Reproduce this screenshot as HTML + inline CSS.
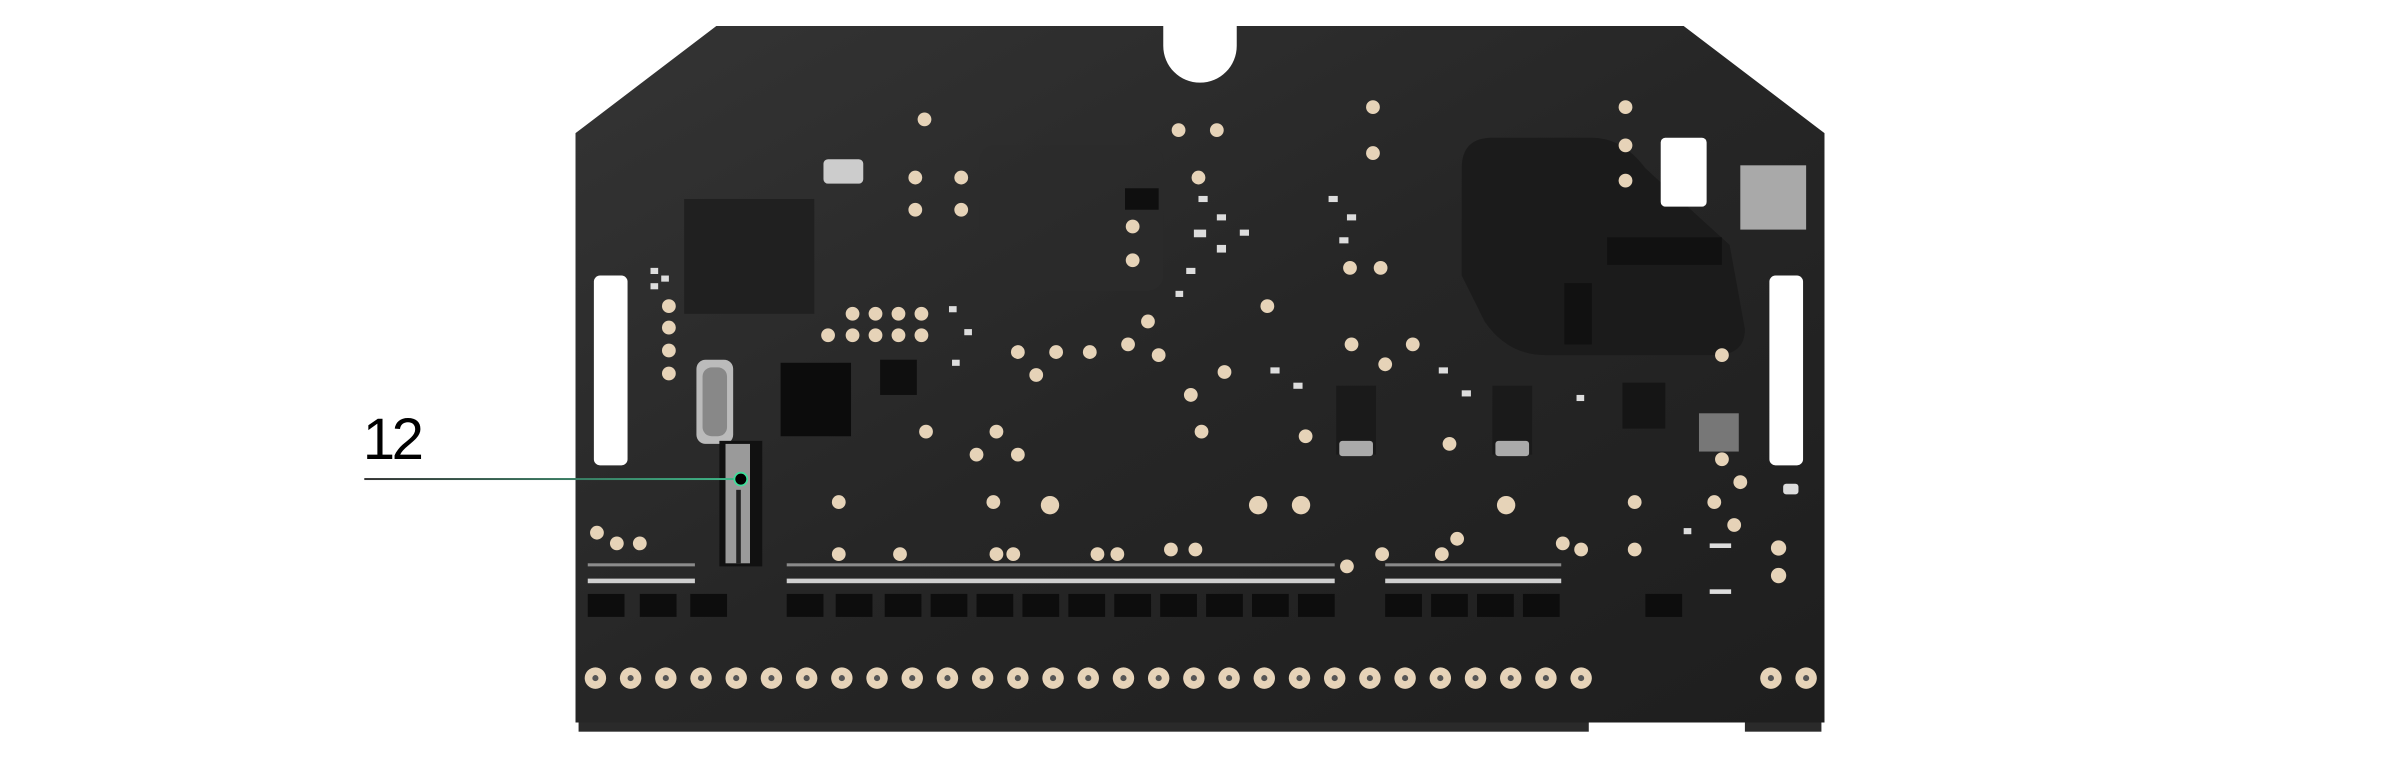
<!DOCTYPE html>
<html><head><meta charset="utf-8"><style>
html,body{margin:0;padding:0;background:#fff;width:2400px;height:760px;overflow:hidden}
svg{display:block}
</style></head><body>
<svg width="2400" height="760" viewBox="0 0 1568 496.5" preserveAspectRatio="none" xmlns="http://www.w3.org/2000/svg">
<defs>
<linearGradient id="bg" x1="0" y1="0" x2="1" y2="1">
<stop offset="0" stop-color="#343434"/><stop offset="0.5" stop-color="#262626"/><stop offset="1" stop-color="#1e1e1e"/>
</linearGradient>
<linearGradient id="ln" x1="0" y1="0" x2="1" y2="0">
<stop offset="0" stop-color="#333"/><stop offset="1" stop-color="#3fb98a"/>
</linearGradient>
</defs>
<!-- bottom strip -->
<rect x="378" y="470" width="660" height="8" fill="#2a2a2a"/>
<rect x="1140" y="470" width="50" height="8" fill="#2a2a2a"/>
<!-- board -->
<path d="M376 87 L468 17 L760 17 L760 30 A24 24 0 0 0 808 30 L808 17 L1100 17 L1192 87 L1192 472 L376 472 Z" fill="url(#bg)"/>
<!-- inner regions -->
<path d="M955 110 Q955 90 975 90 L1040 90 Q1060 90 1075 110 L1130 160 L1140 215 Q1140 232 1120 232 L1010 232 Q985 232 970 210 L955 180 Z" fill="#1b1b1b"/>
<rect x="640" y="95" width="120" height="95" rx="10" fill="#2c2c2c" opacity="0.6"/>
<rect x="447" y="130" width="85" height="75" fill="#202020"/>
<!-- slots -->
<rect x="388" y="180" width="22" height="124" rx="4" fill="#fff"/>
<rect x="1156" y="180" width="22" height="124" rx="4" fill="#fff"/>
<rect x="1085" y="90" width="30" height="45" rx="3" fill="#fff"/>
<rect x="1137" y="108" width="43" height="42" fill="#a9a9a9"/>
<!-- chips -->
<rect x="510" y="237" width="46" height="48" fill="#0c0c0c"/>
<rect x="575" y="235" width="24" height="23" fill="#0f0f0f"/>
<rect x="735" y="123" width="22" height="14" fill="#0f0f0f"/>
<rect x="1050" y="155" width="75" height="18" fill="#111"/>
<rect x="1022" y="185" width="18" height="40" fill="#111"/>
<rect x="455" y="235" width="24" height="55" rx="6" fill="#bbb"/>
<rect x="459" y="240" width="16" height="45" rx="6" fill="#888"/>
<rect x="538" y="104" width="26" height="16" rx="3" fill="#ccc"/>
<rect x="873" y="252" width="26" height="45" fill="#1a1a1a"/>
<rect x="875" y="288" width="22" height="10" rx="2" fill="#aaa"/>
<rect x="975" y="252" width="26" height="45" fill="#1a1a1a"/>
<rect x="977" y="288" width="22" height="10" rx="2" fill="#aaa"/>
<rect x="1060" y="250" width="28" height="30" fill="#151515"/>
<rect x="1110" y="270" width="26" height="25" fill="#777"/>
<!-- component 12 -->
<rect x="470" y="288" width="28" height="82" fill="#111"/>
<rect x="474" y="290" width="16" height="78" fill="#9a9a9a"/>
<rect x="481" y="320" width="3" height="48" fill="#222"/>
<!-- small parts -->
<g fill="#ddd">
<rect x="783" y="128" width="6" height="4"/><rect x="795" y="140" width="6" height="4"/><rect x="780" y="150" width="8" height="5"/><rect x="795" y="160" width="6" height="5"/><rect x="810" y="150" width="6" height="4"/><rect x="775" y="175" width="6" height="4"/><rect x="768" y="190" width="5" height="4"/><rect x="868" y="128" width="6" height="4"/><rect x="880" y="140" width="6" height="4"/><rect x="875" y="155" width="6" height="4"/>
<rect x="620" y="200" width="5" height="4"/><rect x="630" y="215" width="5" height="4"/><rect x="622" y="235" width="5" height="4"/><rect x="830" y="240" width="6" height="4"/><rect x="845" y="250" width="6" height="4"/><rect x="940" y="240" width="6" height="4"/><rect x="955" y="255" width="6" height="4"/><rect x="1030" y="258" width="5" height="4"/><rect x="1100" y="345" width="5" height="4"/><rect x="1117" y="355" width="14" height="3"/><rect x="1117" y="385" width="14" height="3"/>
<rect x="1165" y="316" width="10" height="7" rx="2"/>
<rect x="425" y="175" width="5" height="4"/><rect x="425" y="185" width="5" height="4"/><rect x="432" y="180" width="5" height="4"/>
</g>
<!-- rows of small smd -->
<g fill="#cfcfcf">
<rect x="384" y="378" width="70" height="3"/>
<rect x="514" y="378" width="358" height="3"/>
<rect x="905" y="378" width="115" height="3"/>
<rect x="384" y="368" width="70" height="2" opacity="0.6"/>
<rect x="514" y="368" width="358" height="2" opacity="0.6"/>
<rect x="905" y="368" width="115" height="2" opacity="0.6"/>
</g>
<g fill="#0d0d0d">
<rect x="384" y="388" width="24" height="15"/><rect x="418" y="388" width="24" height="15"/><rect x="451" y="388" width="24" height="15"/>
<rect x="514" y="388" width="24" height="15"/><rect x="546" y="388" width="24" height="15"/><rect x="578" y="388" width="24" height="15"/><rect x="608" y="388" width="24" height="15"/><rect x="638" y="388" width="24" height="15"/><rect x="668" y="388" width="24" height="15"/><rect x="698" y="388" width="24" height="15"/><rect x="728" y="388" width="24" height="15"/><rect x="758" y="388" width="24" height="15"/><rect x="788" y="388" width="24" height="15"/><rect x="818" y="388" width="24" height="15"/><rect x="848" y="388" width="24" height="15"/>
<rect x="905" y="388" width="24" height="15"/><rect x="935" y="388" width="24" height="15"/><rect x="965" y="388" width="24" height="15"/><rect x="995" y="388" width="24" height="15"/><rect x="1075" y="388" width="24" height="15"/>
</g>
<!-- pads -->
<g fill="#e6d3b8">
<circle cx="604" cy="78" r="4.5"/><circle cx="770" cy="85" r="4.5"/><circle cx="795" cy="85" r="4.5"/><circle cx="897" cy="70" r="4.5"/><circle cx="897" cy="100" r="4.5"/><circle cx="1062" cy="70" r="4.5"/><circle cx="1062" cy="95" r="4.5"/><circle cx="1062" cy="118" r="4.5"/>
<circle cx="598" cy="116" r="4.5"/><circle cx="628" cy="116" r="4.5"/><circle cx="598" cy="137" r="4.5"/><circle cx="628" cy="137" r="4.5"/>
<circle cx="783" cy="116" r="4.5"/><circle cx="740" cy="148" r="4.5"/><circle cx="740" cy="170" r="4.5"/><circle cx="882" cy="175" r="4.5"/><circle cx="902" cy="175" r="4.5"/>
<circle cx="437" cy="200" r="4.5"/><circle cx="437" cy="214" r="4.5"/><circle cx="437" cy="229" r="4.5"/><circle cx="437" cy="244" r="4.5"/>
<circle cx="557" cy="205" r="4.5"/><circle cx="572" cy="205" r="4.5"/><circle cx="587" cy="205" r="4.5"/><circle cx="602" cy="205" r="4.5"/>
<circle cx="541" cy="219" r="4.5"/><circle cx="557" cy="219" r="4.5"/><circle cx="572" cy="219" r="4.5"/><circle cx="587" cy="219" r="4.5"/><circle cx="602" cy="219" r="4.5"/>
<circle cx="665" cy="230" r="4.5"/><circle cx="690" cy="230" r="4.5"/><circle cx="712" cy="230" r="4.5"/><circle cx="677" cy="245" r="4.5"/><circle cx="737" cy="225" r="4.5"/><circle cx="750" cy="210" r="4.5"/><circle cx="757" cy="232" r="4.5"/><circle cx="828" cy="200" r="4.5"/>
<circle cx="883" cy="225" r="4.5"/><circle cx="923" cy="225" r="4.5"/><circle cx="905" cy="238" r="4.5"/><circle cx="800" cy="243" r="4.5"/><circle cx="778" cy="258" r="4.5"/><circle cx="1125" cy="232" r="4.5"/>
<circle cx="605" cy="282" r="4.5"/><circle cx="651" cy="282" r="4.5"/><circle cx="638" cy="297" r="4.5"/><circle cx="665" cy="297" r="4.5"/><circle cx="785" cy="282" r="4.5"/><circle cx="853" cy="285" r="4.5"/><circle cx="947" cy="290" r="4.5"/><circle cx="1125" cy="300" r="4.5"/><circle cx="1137" cy="315" r="4.5"/>
<circle cx="548" cy="328" r="4.5"/><circle cx="649" cy="328" r="4.5"/><circle cx="686" cy="330" r="6"/><circle cx="822" cy="330" r="6"/><circle cx="850" cy="330" r="6"/><circle cx="984" cy="330" r="6"/><circle cx="1068" cy="328" r="4.5"/><circle cx="1120" cy="328" r="4.5"/><circle cx="1133" cy="343" r="4.5"/>
<circle cx="390" cy="348" r="4.5"/><circle cx="403" cy="355" r="4.5"/><circle cx="418" cy="355" r="4.5"/>
<circle cx="548" cy="362" r="4.5"/><circle cx="588" cy="362" r="4.5"/><circle cx="651" cy="362" r="4.5"/><circle cx="662" cy="362" r="4.5"/><circle cx="717" cy="362" r="4.5"/><circle cx="730" cy="362" r="4.5"/><circle cx="765" cy="359" r="4.5"/><circle cx="781" cy="359" r="4.5"/><circle cx="880" cy="370" r="4.5"/><circle cx="903" cy="362" r="4.5"/><circle cx="942" cy="362" r="4.5"/><circle cx="952" cy="352" r="4.5"/><circle cx="1021" cy="355" r="4.5"/><circle cx="1033" cy="359" r="4.5"/><circle cx="1068" cy="359" r="4.5"/>
<circle cx="1162" cy="358" r="5"/><circle cx="1162" cy="376" r="5"/>
</g>
<!-- bottom pad row -->
<g fill="#e6d3b8">
<circle cx="389" cy="443" r="7"/><circle cx="412" cy="443" r="7"/><circle cx="435" cy="443" r="7"/><circle cx="458" cy="443" r="7"/><circle cx="481" cy="443" r="7"/><circle cx="504" cy="443" r="7"/><circle cx="527" cy="443" r="7"/><circle cx="550" cy="443" r="7"/><circle cx="573" cy="443" r="7"/><circle cx="596" cy="443" r="7"/><circle cx="619" cy="443" r="7"/><circle cx="642" cy="443" r="7"/><circle cx="665" cy="443" r="7"/><circle cx="688" cy="443" r="7"/><circle cx="711" cy="443" r="7"/><circle cx="734" cy="443" r="7"/><circle cx="757" cy="443" r="7"/><circle cx="780" cy="443" r="7"/><circle cx="803" cy="443" r="7"/><circle cx="826" cy="443" r="7"/><circle cx="849" cy="443" r="7"/><circle cx="872" cy="443" r="7"/><circle cx="895" cy="443" r="7"/><circle cx="918" cy="443" r="7"/><circle cx="941" cy="443" r="7"/><circle cx="964" cy="443" r="7"/><circle cx="987" cy="443" r="7"/><circle cx="1010" cy="443" r="7"/><circle cx="1033" cy="443" r="7"/>
<circle cx="1157" cy="443" r="7"/><circle cx="1180" cy="443" r="7"/>
</g>
<g fill="#555">
<circle cx="389" cy="443" r="2"/><circle cx="412" cy="443" r="2"/><circle cx="435" cy="443" r="2"/><circle cx="458" cy="443" r="2"/><circle cx="481" cy="443" r="2"/><circle cx="504" cy="443" r="2"/><circle cx="527" cy="443" r="2"/><circle cx="550" cy="443" r="2"/><circle cx="573" cy="443" r="2"/><circle cx="596" cy="443" r="2"/><circle cx="619" cy="443" r="2"/><circle cx="642" cy="443" r="2"/><circle cx="665" cy="443" r="2"/><circle cx="688" cy="443" r="2"/><circle cx="711" cy="443" r="2"/><circle cx="734" cy="443" r="2"/><circle cx="757" cy="443" r="2"/><circle cx="780" cy="443" r="2"/><circle cx="803" cy="443" r="2"/><circle cx="826" cy="443" r="2"/><circle cx="849" cy="443" r="2"/><circle cx="872" cy="443" r="2"/><circle cx="895" cy="443" r="2"/><circle cx="918" cy="443" r="2"/><circle cx="941" cy="443" r="2"/><circle cx="964" cy="443" r="2"/><circle cx="987" cy="443" r="2"/><circle cx="1010" cy="443" r="2"/><circle cx="1033" cy="443" r="2"/><circle cx="1157" cy="443" r="2"/><circle cx="1180" cy="443" r="2"/>
</g>
<!-- callout -->
<rect x="238" y="312.3" width="246" height="1.3" fill="url(#ln)"/>
<circle cx="484" cy="313" r="4.2" fill="#000" stroke="#3fdc9a" stroke-width="1.2"/>
<text x="237" y="300" font-family="Liberation Sans, sans-serif" font-size="38" fill="#000" transform="scale(1 1)" textLength="40">12</text>
</svg>
</body></html>
